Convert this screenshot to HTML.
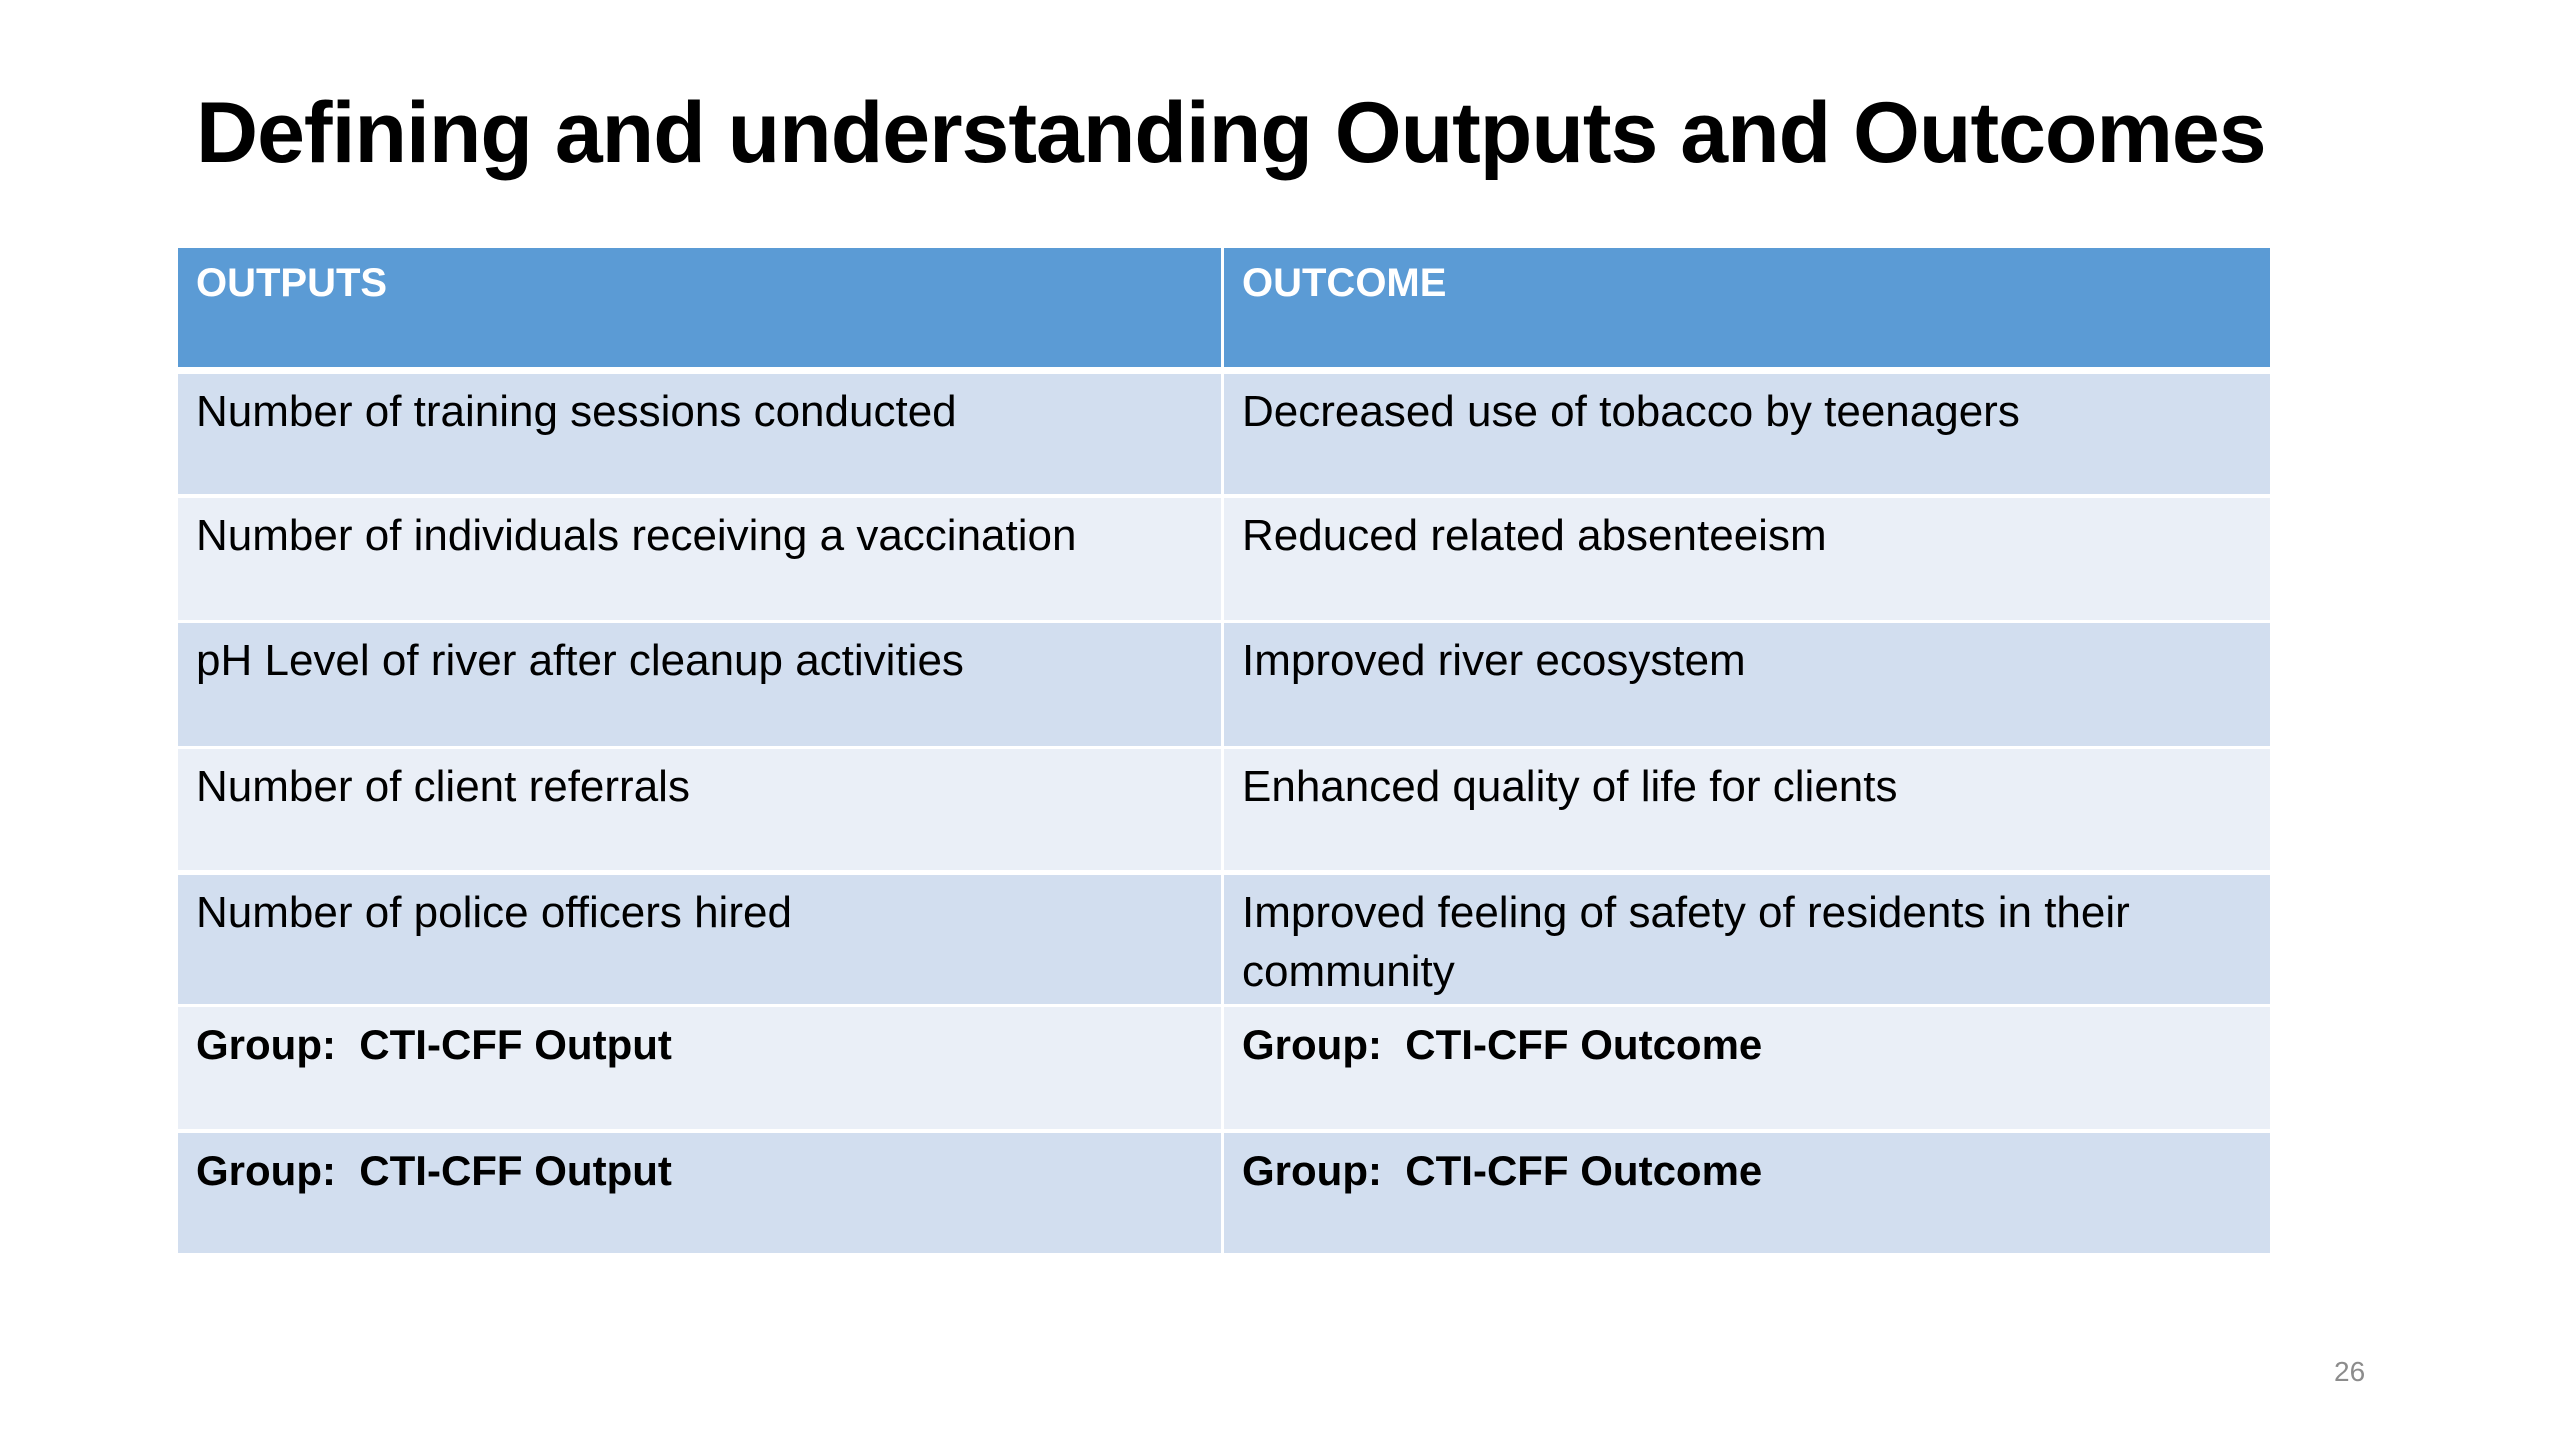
<!DOCTYPE html>
<html><head><meta charset="utf-8">
<style>
html,body{margin:0;padding:0;background:#fff;}
body{width:2560px;height:1440px;position:relative;overflow:hidden;font-family:"Liberation Sans",sans-serif;}
#title{position:absolute;left:196px;top:84px;font-size:86px;font-weight:bold;color:#000;white-space:nowrap;letter-spacing:-1px;}
.cell{position:absolute;box-sizing:border-box;padding:8px 20px 0 18px;font-size:44px;color:#000;line-height:59px;white-space:pre-wrap;}
.hd{background:#5B9BD5;color:#fff;font-weight:bold;font-size:40px;padding-top:6px;}
.dark{background:#D2DEEF;}
.light{background:#EAEFF7;}
.b{font-weight:bold;font-size:42px;}
#pg{position:absolute;left:2334px;top:1356px;font-size:28px;color:#8c8c8c;}
</style></head><body>
<div id="title">Defining and understanding Outputs and Outcomes</div>
<div id="tbl"></div>
<div id="pg">26</div>
<script>
const outputs=["Number of training sessions conducted","Number of individuals receiving a vaccination","pH Level of river after cleanup activities","Number of client referrals","Number of police officers hired","Group:  CTI-CFF Output","Group:  CTI-CFF Output"];
const outcomes=["Decreased use of tobacco by teenagers","Reduced related absenteeism","Improved river ecosystem","Enhanced quality of life for clients","Improved feeling of safety of residents in their community","Group:  CTI-CFF Outcome","Group:  CTI-CFF Outcome"];
const rowTops=[374,498,623,749,875,1007,1133];
const rowBots=[494,620,746,870,1004,1129,1253];
const tbl=document.getElementById('tbl');
const L=178,M=1222,R=2270;
function cell(x,y,w,h,cls,txt,name){
  const d=document.createElement('div');
  d.className='cell '+cls;
  d.style.left=x+'px';d.style.top=y+'px';d.style.width=w+'px';d.style.height=h+'px';
  d.textContent=txt;
  
  
  tbl.appendChild(d);
}
cell(L,248,M-L-1,119,'hd','OUTPUTS','header-outputs');
cell(M+2,248,R-M-2,119,'hd','OUTCOME','header-outcome');
for(let i=0;i<outputs.length;i++){
  const cls=(i%2==0?'dark':'light')+(i>=5?' b':'');
  const h=rowBots[i]-rowTops[i];
  cell(L,rowTops[i],M-L-1,h,cls,outputs[i],'output-cell-'+(i+1));
  cell(M+2,rowTops[i],R-M-2,h,cls,outcomes[i],'outcome-cell-'+(i+1));
}
</script>
</body></html>
